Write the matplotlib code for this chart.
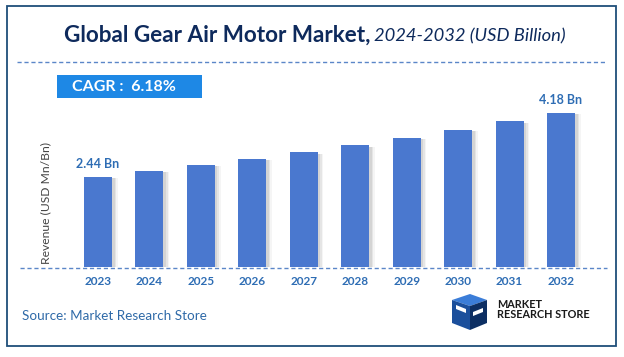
import matplotlib.pyplot as plt
from matplotlib.patches import Rectangle, Polygon

years = ['2023', '2024', '2025', '2026', '2027', '2028', '2029', '2030', '2031', '2032']
revenue = [2.44, 2.60, 2.76, 2.93, 3.11, 3.30, 3.50, 3.72, 3.95, 4.18]
cagr = '6.18%'

W, H = 624, 357
fig = plt.figure(figsize=(W / 100, H / 100), dpi=100)
fig.patch.set_facecolor('white')

def fx(px):
    return px / W

def fy(py):
    return 1 - py / H

font = 'Lato'
navy = '#0E2A5C'
bar_col = '#4A78CF'
lbl_col = '#2E6DB4'

# outer border
fig.add_artist(Rectangle((fx(7), fy(346)), fx(609), 340 / H, transform=fig.transFigure,
                         fill=False, ec='#1F4E79', lw=1.3))

# title
fig.text(fx(370), fy(35), 'Global Gear Air Motor Market,', ha='right', va='center',
         fontsize=16.2, fontweight='bold', color=navy, family=font)
fig.text(fx(374), fy(36), '2024-2032 (USD Billion)', ha='left', va='center',
         fontsize=13.2, style='italic', color=navy, family=font)
fig.add_artist(plt.Line2D([fx(17), fx(607)], [fy(62), fy(62)], transform=fig.transFigure,
                          color='#5B86C8', lw=1, ls=(0, (3, 2))))

# CAGR box
fig.add_artist(Rectangle((fx(57), fy(98)), fx(145), 23 / H, transform=fig.transFigure,
                         fc='#1E88E5', ec='none'))
fig.text(fx(124), fy(87), 'CAGR :  ' + cagr, ha='center', va='center', fontsize=11.5,
         fontweight='bold', color='white', family=font)

# bars
ax = fig.add_axes([fx(72.3), fy(267), fx(514.4), 167 / H])
x = list(range(len(years)))
for i, v in enumerate(revenue):
    for k, a in enumerate([0.12, 0.09, 0.06]):
        ax.bar(i + 0.05 + 0.03 * k, v - 0.03, width=0.545, bottom=0, color='#555555',
               alpha=a, zorder=1)
ax.bar(x, revenue, width=0.545, color=bar_col, zorder=3)
ax.set_xlim(-0.5, len(years) - 0.5)
ax.set_ylim(0, 167 / 36.85)
ax.axis('off')
ax.text(0, revenue[0] + 0.2, f'{revenue[0]:.2f} Bn', ha='center', va='bottom',
        fontsize=9, fontweight='bold', color=lbl_col, family=font)
ax.text(len(years) - 1, revenue[-1] + 0.2, f'{revenue[-1]:.2f} Bn', ha='center', va='bottom',
        fontsize=9, fontweight='bold', color=lbl_col, family=font)
for i, yr in enumerate(years):
    ax.text(i, -0.38, yr, ha='center', va='center', fontsize=8.5, fontweight='bold',
            color=lbl_col, family=font)

# baseline
fig.add_artist(plt.Line2D([fx(20), fx(607)], [fy(268), fy(268)], transform=fig.transFigure,
                          color='#5B86C8', lw=1, ls=(0, (3, 2))))

fig.text(fx(46), fy(203), 'Revenue (USD Mn/Bn)', rotation=90, ha='center', va='center',
         fontsize=8.7, color='#444444', family=font)

fig.text(fx(22), fy(316), 'Source: Market Research Store', ha='left', va='center',
         fontsize=9.7, color='#2F6AA8', family=font)

# logo
def P(pts, c):
    fig.add_artist(Polygon([(fx(a), fy(b)) for a, b in pts], closed=True,
                           transform=fig.transFigure, fc=c, ec='none'))

P([(452, 300), (470, 294), (487, 300), (470, 306)], '#3B7DD8')
P([(452, 300), (470, 306), (470, 330), (452, 323)], '#1B4F9C')
P([(470, 306), (487, 300), (487, 323), (470, 330)], '#0D2F63')
P([(456, 305), (466, 309), (466, 313), (456, 309)], 'white')
P([(473, 312), (483, 308), (483, 312), (473, 316)], 'white')
fig.text(fx(497), fy(304), 'MARKET', ha='left', va='center', fontsize=7.8,
         fontweight='bold', color='#1A1A1A', family=font)
fig.text(fx(497), fy(314), 'RESEARCH STORE', ha='left', va='center', fontsize=7.8,
         fontweight='bold', color='#1A1A1A', family=font)

fig.savefig('out.png', dpi=100)
